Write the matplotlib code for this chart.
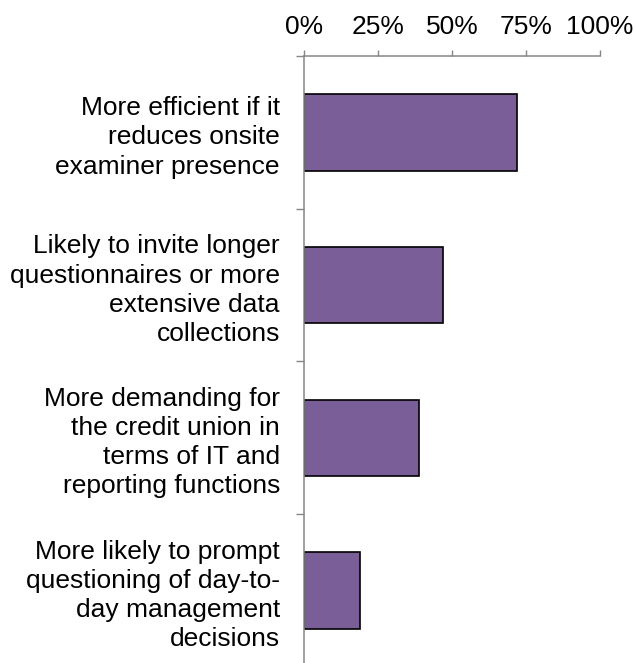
import numpy as np
import matplotlib.pyplot as plt
from matplotlib.ticker import FixedLocator

plt.rcParams['font.family'] = ['Liberation Sans', 'DejaVu Sans']

# Survey answers and share of respondents (%)
categories = [
    'More efficient if it\nreduces onsite\nexaminer presence',
    'Likely to invite longer\nquestionnaires or more\nextensive data\ncollections',
    'More demanding for\nthe credit union in\nterms of IT and\nreporting functions',
    'More likely to prompt\nquestioning of day-to-\nday management\ndecisions',
]
values = [72, 47, 39, 19]
x_ticks = [0, 25, 50, 75, 100]
x_tick_labels = ['0%', '25%', '50%', '75%', '100%']

bar_color = '#7a5e97'
axis_color = '#868686'

fig = plt.figure(figsize=(6.36, 6.63), dpi=100)
ax = fig.add_axes([304 / 636, 1 - 666.7 / 663, 296 / 636, 610.7 / 663])

y = np.arange(len(categories))
ax.barh(y, values, height=0.5, color=bar_color, edgecolor='black', linewidth=1.2)

ax.set_xlim(0, 100)
ax.set_ylim(len(categories) - 0.5, -0.5)

ax.xaxis.set_ticks_position('top')
ax.set_xticks(x_ticks)
ax.set_xticklabels(x_tick_labels)
ax.tick_params(axis='x', direction='out', length=4.3, width=1, color=axis_color,
               pad=8, labelsize=19, labelcolor='black')

ax.set_yticks(y)
ax.set_yticklabels(categories, ha='right', linespacing=1.27)
ax.yaxis.set_minor_locator(FixedLocator(np.arange(len(categories) + 1) - 0.5))
ax.tick_params(axis='y', which='major', length=0, pad=17.3, labelsize=19)
ax.tick_params(axis='y', which='minor', direction='out', length=5.8, width=1,
               color=axis_color)

for side in ['right', 'bottom']:
    ax.spines[side].set_visible(False)
for side in ['top', 'left']:
    ax.spines[side].set_color(axis_color)
    ax.spines[side].set_linewidth(1.1)

fig.savefig('out.png', dpi=100)
